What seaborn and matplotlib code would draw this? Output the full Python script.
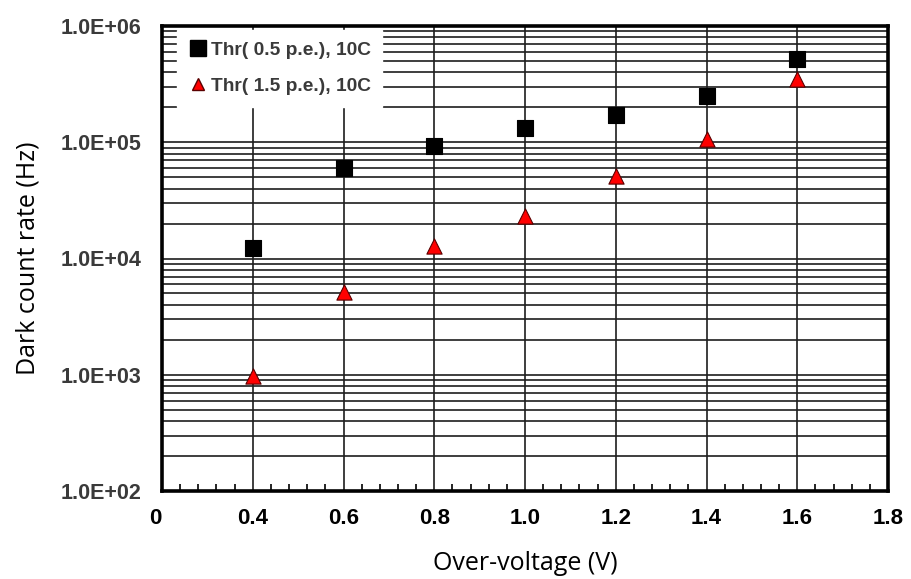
import numpy as np
import pandas as pd
import matplotlib
matplotlib.use("Agg")
import matplotlib.pyplot as plt
import seaborn as sns
from matplotlib.ticker import FixedLocator, MultipleLocator, NullFormatter, LogLocator
from matplotlib.lines import Line2D

# ---------------- data ----------------
overvoltage = [0.4, 0.6, 0.8, 1.0, 1.2, 1.4, 1.6]
dcr_05pe = [12400, 60400, 93300, 133000, 172000, 251000, 521000]
dcr_15pe = [970, 5100, 12900, 23400, 51500, 107000, 351000]
series_labels = ["Thr( 0.5 p.e.), 10C", "Thr( 1.5 p.e.), 10C"]

x_ticks = [0.2, 0.4, 0.6, 0.8, 1.0, 1.2, 1.4, 1.6, 1.8]
x_tick_labels = ["0", "0.4", "0.6", "0.8", "1.0", "1.2", "1.4", "1.6", "1.8"]
y_ticks = [1e2, 1e3, 1e4, 1e5, 1e6]
y_tick_labels = ["1.0E+02", "1.0E+03", "1.0E+04", "1.0E+05", "1.0E+06"]

df = pd.DataFrame({
    "Over-voltage": overvoltage * 2,
    "DCR": dcr_05pe + dcr_15pe,
    "series": [series_labels[0]] * len(overvoltage) + [series_labels[1]] * len(overvoltage),
})

# ---------------- style ----------------
sns.set_theme(style="white")
plt.rcParams["font.family"] = ["Liberation Sans", "DejaVu Sans"]

fig = plt.figure(figsize=(9.11, 5.79), dpi=100)
L, R, T, B = 162, 888, 26, 491
ax = fig.add_axes([L / 911, 1 - B / 579, (R - L) / 911, (B - T) / 579])

ax.set_yscale("log")
ax.set_xlim(0.2, 1.8)
ax.set_ylim(1e2, 1e6)

sub1 = df[df["series"] == series_labels[0]]
sub2 = df[df["series"] == series_labels[1]]
sns.scatterplot(data=sub1, x="Over-voltage", y="DCR", marker="s", s=135,
                color="black", edgecolor="black", linewidth=0.8, ax=ax,
                legend=False, zorder=4)
sns.scatterplot(data=sub2, x="Over-voltage", y="DCR", marker="^", s=120,
                color="#ff0000", edgecolor="#5a0000", linewidth=0.8, ax=ax,
                legend=False, zorder=4)

# grid
ax.set_axisbelow(True)
ax.yaxis.set_major_locator(FixedLocator(y_ticks))
ax.yaxis.set_minor_locator(LogLocator(base=10, subs=np.arange(2, 10)))
ax.yaxis.set_minor_formatter(NullFormatter())
ax.set_yticklabels(y_tick_labels)
ax.xaxis.set_major_locator(FixedLocator(x_ticks))
ax.xaxis.set_minor_locator(MultipleLocator(0.04))
ax.set_xticklabels(x_tick_labels)

grid_kw = dict(color="#1e1e1e", linewidth=1.2)
ax.grid(which="both", axis="y", **grid_kw)
ax.grid(which="major", axis="x", **grid_kw)

for s in ax.spines.values():
    s.set_visible(True)
    s.set_color("black")
    s.set_linewidth(2.6)

ax.tick_params(axis="y", which="both", length=0, pad=15)
ax.tick_params(axis="x", which="major", length=0, pad=12)
ax.tick_params(axis="x", which="minor", direction="in", length=5, width=1.2,
               color="black", bottom=True)

for lab in ax.get_yticklabels():
    lab.set_fontsize(15.5)
    lab.set_fontweight("bold")
    lab.set_color("#3a3a3a")
for lab in ax.get_xticklabels():
    lab.set_fontsize(16)
    lab.set_fontweight("bold")
    lab.set_color("black")
xl = ax.get_xticklabels()
xl[0].set_horizontalalignment("right")

ax.set_xlabel("Over-voltage (V)", fontsize=18, family=["Open Sans", "DejaVu Sans"],
              color="black")
ax.set_ylabel("Dark count rate (Hz)", fontsize=18, family=["Open Sans", "DejaVu Sans"],
              color="black")
ax.xaxis.set_label_coords(0.5, -0.13)
ax.yaxis.set_label_coords(-0.168, 0.5)

handles = [
    Line2D([], [], marker="s", linestyle="none", markersize=12, markerfacecolor="black",
           markeredgecolor="black"),
    Line2D([], [], marker="^", linestyle="none", markersize=8.5, markerfacecolor="#ff0000",
           markeredgecolor="#5a0000"),
]
leg = ax.legend(handles, series_labels, loc="upper left",
                bbox_to_anchor=(15 / 726, 1 - 4 / 465), borderaxespad=0,
                frameon=True, fancybox=False, framealpha=1, facecolor="white",
                edgecolor="white", handlelength=1.0, handletextpad=0.15,
                labelspacing=0.98, borderpad=0.6,
                prop={"family": ["Liberation Sans"], "weight": "bold", "size": 13.8})
for t in leg.get_texts():
    t.set_color("#3a3a3a")
leg.set_zorder(5)

fig.savefig("out.png", dpi=100, facecolor="white")
